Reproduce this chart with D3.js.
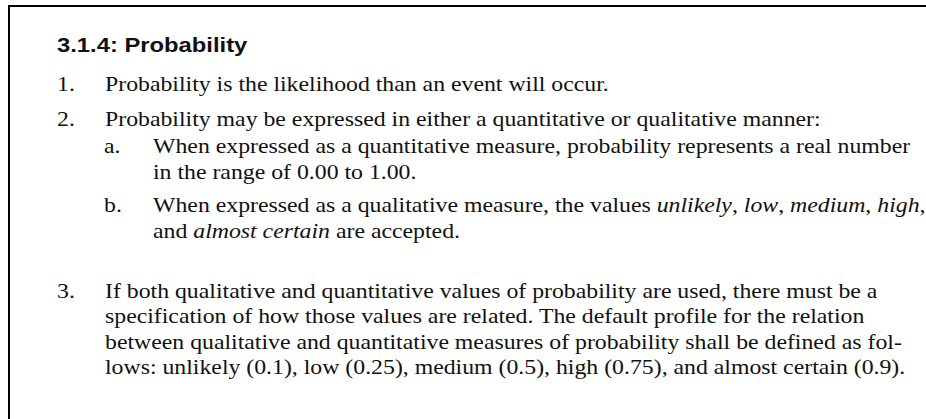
<!DOCTYPE html>
<html><head><meta charset="utf-8">
<script src="https://cdn.jsdelivr.net/npm/d3@7"></script>
<style>html,body{margin:0;padding:0;background:#fff;}svg{display:block;}</style>
</head><body>
<svg id="c" width="926" height="419"></svg>
<script>
// Content
const heading = "3.1.4: Probability";
// each line: marker (or ""), indent level, segments [text, italic]
const lines = [
  {m: "1.", lvl: 0, seg: [["Probability is the likelihood than an event will occur.", 0]]},
  {m: "2.", lvl: 0, seg: [["Probability may be expressed in either a quantitative or qualitative manner:", 0]]},
  {m: "a.", lvl: 1, seg: [["When expressed as a quantitative measure, probability represents a real number", 0]]},
  {m: "",   lvl: 1, seg: [["in the range of 0.00 to 1.00.", 0]]},
  {m: "b.", lvl: 1, seg: [["When expressed as a qualitative measure, the values ", 0], ["unlikely", 1], [", ", 0], ["low", 1], [", ", 0], ["medium", 1], [", ", 0], ["high", 1], [",", 0]]},
  {m: "",   lvl: 1, seg: [["and ", 0], ["almost certain", 1], [" are accepted.", 0]]},
  {m: "3.", lvl: 0, seg: [["If both qualitative and quantitative values of probability are used, there must be a", 0]]},
  {m: "",   lvl: 0, seg: [["specification of how those values are related. The default profile for the relation", 0]]},
  {m: "",   lvl: 0, seg: [["between qualitative and quantitative measures of probability shall be defined as fol-", 0]]},
  {m: "",   lvl: 0, seg: [["lows: unlikely (0.1), low (0.25), medium (0.5), high (0.75), and almost certain (0.9).", 0]]}
];
const baselines = [91, 126, 153, 179, 212, 238, 298, 323, 349, 374];

const svg = d3.select("#c");
const sxHead = 1.19;
const sx = 1.133;

// frame
svg.append("rect").attr("x", 9).attr("y", 6).attr("width", 940).attr("height", 440)
  .attr("fill", "none").attr("stroke", "#000").attr("stroke-width", 2);

svg.append("text")
  .attr("transform", `translate(57,52) scale(${sxHead},1)`)
  .attr("font-family", "'Liberation Sans', Arial, sans-serif")
  .attr("font-weight", "bold").attr("font-size", 20).attr("fill", "#111")
  .text(heading);

const markerX = [57, 104];
const textX = [105, 153];

const g = svg.append("g")
  .attr("font-family", "'Liberation Serif', 'Times New Roman', serif")
  .attr("font-size", 21).attr("fill", "#111");

const rows = g.selectAll("g.row").data(lines).join("g").attr("class", "row");
rows.filter(d => d.m).append("text")
  .attr("transform", d => `translate(${markerX[d.lvl]},${baselines[lines.indexOf(d)]}) scale(${sx},1)`)
  .text(d => d.m);
rows.append("text")
  .attr("transform", (d, i) => `translate(${textX[d.lvl]},${baselines[i]}) scale(${sx},1)`)
  .style("white-space", "pre")
  .selectAll("tspan").data(d => d.seg).join("tspan")
  .attr("font-style", s => s[1] ? "italic" : "normal")
  .text(s => s[0]);
</script>
</body></html>
